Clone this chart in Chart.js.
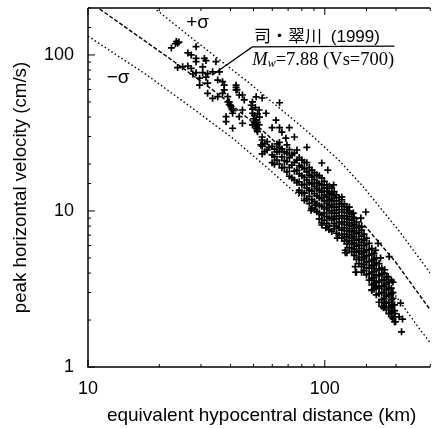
<!DOCTYPE html>
<html><head><meta charset="utf-8">
<style>html,body{margin:0;padding:0;background:#fff;width:432px;height:429px;overflow:hidden}canvas{display:block}</style>
<script src="https://cdn.jsdelivr.net/npm/chart.js@4"></script></head>
<body><canvas id="c" width="436" height="429"></canvas>
<script>
const xTickLabels=[10,100];
const yTickLabels=[1,10,100];
const xTitle='equivalent hypocentral distance (km)';
const yTitle='peak horizontal velocity (cm/s)';
const meanCurve=[[11.2,197],[16.5,130],[23.2,90.2],[35.9,55.4],[54.4,33],[77.8,20],[109,12.7],[149,7.9],[199,4.71],[279,2.32]];
const plusSigma=[[19.5,194],[26.8,132],[36.9,90.2],[47.9,66.2],[83.2,33],[114.5,21.2],[143,14.7],[204.6,7.55],[279,4.0]];
const minusSigma=[[10,132],[17.7,74.5],[26.8,47.1],[40.7,29.4],[59.9,17.8],[85.7,10.9],[120,6.8],[168.6,4.06],[253,1.73],[279,1.43]];
const leader=[[33.5,74.5],[49.4,112.6],[196.8,114]];
const sparse=[[23.6,122],[23.9,119],[22.5,111],[28.6,113],[26.4,103],[27.3,100],[28.6,95],[28.6,90.6],[31,95],[31.5,92],[34.7,90.6],[23.9,83],[25.1,84],[26.4,85],[27.3,82],[27.7,75.5],[28.6,77],[30.5,84],[30.5,77],[32,76],[33.6,78],[35.9,78],[29.6,71],[31.5,72],[29.6,64],[32,66],[35.3,69],[37,67.4],[37.6,64],[32,56.8],[33.6,52.7],[35.3,54],[37,56.8],[37.6,59.7],[38.9,54],[39.5,50],[40.2,46.6],[42.2,64],[42.2,59.7],[43.5,55.4],[44.9,55.4],[45.7,51.5],[49.5,50],[44.9,44.4],[43.5,40.2],[38.3,40.2],[40.8,42.3],[38.3,37.4],[40.8,33.9],[44.9,36.5],[49.5,42.3],[51.2,36.5],[52,32.2],
[64.4,49.4],[51.3,53.9],[54.4,53],[48.9,47.6],[52.8,44.4],[51.3,38.2],[52.8,35.6],[56.5,42.3],[62.2,38.2],[59.9,34.2],[64.4,34.2],[70.8,34.2],[65.9,32],[74.4,29.8],[68.5,29.3],[84,25.6],[54.4,29.8],[53.7,26.5],[58.1,25.6],[64.4,25.6],[50.5,41],[49.5,35.6],[51.7,33],[50.9,46],
[213,2.03],[211,1.68],[97.1,20.3],[103,18.3],[149,9.85],[168,6.2],[187,5.1],[135,4.05],[122,5.4]];
const clumps=[[39.5,48],[40,47.5],[39,50],[40.5,45],[41,44],[42.2,62],[42.6,60],[51,35],[51.5,34],[52,37],[50,39],[50.5,37],[52,42],[49.5,45],[53,40],[24.2,121],[23.4,118]];
const lowerEdge=[[78,13.2],[82,13],[88,10.4],[91.5,10.9],[87.5,10.1],[97,8.4],[104,7.6],[101,7.8],[113,6.7],[122,5.6],[124,5.4],[136,4.05],[134.5,4.4],[158,3.1],[164,3.3],[177,2.4],[179,2.57],[198,2.2],[199,1.95],[206,2.1]];
const upperEdge=[[118,12.3],[132,9.7],[142,9],[143,7.9],[164,5.6],[179,4.2],[194,3.5],[191,3.6],[109,14.7],[107,13],[127,10.6],[172,5],[185,3.8],[209,2.57]];
const rowDistances=[54.4,57.1,59.9,62.8,65.9,69.2,72.6,76.3,80,84,88.2,92.6,97.1,102,107,112,118,124,130,136,143,150,158,165,174,182,191,197];
const rowVelocities=[
[28.5,26,23.2],[27.8,24.6],[26,22.9,20.4],[26.9,23.9,21.2],[25,22.2,18.9],[26.5,23.5,20.7,17.8],[22.9,19.7,16.3],[24.6,21.2,18.3,15.2],
[21.2,19.1,16.8,14.7,13],[20.4,17.8,15.8,14,12],[18.3,16.5,14.9,13.4,11.8,10.4],[17,15.2,13.9,12.5,11.1,9.9],[16.3,14.7,13.2,12,10.7,9.43,8.13],
[14.7,13.4,12.3,11.2,10.3,9.2,8.3],[14,12.7,11.6,10.6,9.7,8.75,7.4],[12.7,11.6,10.6,9.7,8.9,8,7.2],[11.8,10.7,9.85,9,8.25,7.55,6.7],
[10.6,9.7,8.9,8.13,7.45,6.85,6.15],[9.55,8.75,8,7.35,6.7,6.15,5.5],[8.5,7.8,7.15,6.5,5.95,5.45,4.9],[7.55,6.9,6.3,5.75,5.3,4.85,4.4,4.05],
[6.7,6.15,5.62,5.15,4.7,4.3,3.89],[5.75,5.3,4.85,4.45,4.05,3.7,3.36,3.12],[5,4.65,4.25,3.89,3.55,3.25,2.9],[4.3,3.95,3.6,3.3,3.0,2.7,2.45],
[3.75,3.4,3.12,2.85,2.57,2.32],[3.2,2.95,2.7,2.45,2.25,2.1],[2.5,2.3,2.1,1.95]];
const rowDistancesB=[55.7,61.3,64.3,67.5,70.9,74.4,78,82,86,90.4,94.8,99.5,104.5,109.5,115,121,127,133,139.5,146.5,154,161.5,169.5,178,186.5,194];
const rowVelocitiesB=[
[27,24],[24.9,22.2,19.9],[27.5,24,20],[23.9,21,19],[24.7,22,19,16.7],[23.5,20.5,18,15.8],
[22,19.5,17.3,15.4,13.6],[20.5,18.6,16.4,14.8,13,11.7],[19,17,15.2,13.6,12.4,11.2],[17.6,15.9,14.4,12.9,11.5,10.2],[16.8,14.9,13.6,12.2,10.9,9.7,8.9],
[15.5,14,12.7,11.6,10.5,9.7,8.7],[14.4,13,11.9,10.9,10,9,8],[13.3,12.1,11,10.1,9.2,8.3,7.7],[12.2,11.1,10.2,9.3,8.5,7.8,7],[11.1,10.2,9.3,8.5,7.8,7.1,6.4],
[10,9.2,8.4,7.7,7.05,6.45,5.8],[9,8.2,7.5,6.85,6.25,5.7,5.2],[8,7.3,6.6,6.05,5.55,5.05,4.6],[7.1,6.5,6,5.45,5,4.55,4.15],[6.2,5.65,5.2,4.75,4.3,3.95,3.6],
[5.35,4.9,4.5,4.1,3.75,3.45,3.15],[4.6,4.2,3.85,3.5,3.2,2.95,2.6],[4,3.6,3.3,3,2.75,2.45],[3.5,3.2,2.9,2.6,2.4,2.2],[3,2.75,2.5,2.3,2.05]];

const toXY=a=>a.map(p=>({x:p[0],y:p[1]}));
const scatter=toXY(sparse.concat(clumps,lowerEdge,upperEdge));
rowDistances.forEach((d,i)=>rowVelocities[i].forEach(v=>scatter.push({x:d,y:v})));
rowDistancesB.forEach((d,i)=>rowVelocitiesB[i].forEach(v=>scatter.push({x:d,y:v})));
const curve=(a,dash,lw)=>({type:'line',data:toXY(a),borderColor:'#000',borderWidth:lw,borderDash:dash,pointRadius:0,tension:0,fill:false});
const keepLabelled=list=>function(s){s.allTicks=s.ticks;s.ticks=s.ticks.filter(t=>list.includes(t.value));};

const frame={id:'frame',afterDraw(ch){
  const c=ch.ctx,a=ch.chartArea,X=ch.scales.x,Y=ch.scales.y;
  c.save();c.strokeStyle='#000';c.lineWidth=1.5;
  c.beginPath();c.moveTo(a.left,a.top);c.lineTo(a.left,a.bottom);c.lineTo(a.right,a.bottom);c.moveTo(a.left,a.top);c.lineTo(a.right,a.top);c.stroke();
  c.lineWidth=1;c.beginPath();
  X.allTicks.forEach(t=>{const p=X.getPixelForValue(t.value),l=xTickLabels.includes(t.value)?7:3;
    c.moveTo(p,a.bottom);c.lineTo(p,a.bottom-l);c.moveTo(p,a.top);c.lineTo(p,a.top+l);});
  Y.allTicks.forEach(t=>{const p=Y.getPixelForValue(t.value),l=yTickLabels.includes(t.value)?7:3;
    c.moveTo(a.left,p);c.lineTo(a.left+l,p);});
  c.stroke();
  c.fillStyle='#000';c.textBaseline='alphabetic';
  const at=(x,y)=>[X.getPixelForValue(x),Y.getPixelForValue(y)];
  let p;
  c.font='19px "Liberation Sans"';
  c.textAlign='center';
  c.fillText(xTitle,X.getPixelForValue(54.1),a.bottom+54);
  c.textAlign='left';
  p=at(26,149);c.fillText('+σ',p[0],p[1]);
  p=at(12,66);c.fillText('−σ',p[0],p[1]);
  c.font='17px "Noto Sans CJK JP"';
  p=at(50.3,121);c.fillText('司・翠川',p[0],p[1]);
  c.font='17px "Liberation Sans"';
  p=at(106,121);c.fillText('(1999)',p[0],p[1]);
  p=at(49.4,86.3);
  c.font='italic 18.5px "Liberation Serif"';c.fillText('M',p[0],p[1]);
  let w=c.measureText('M').width;
  c.font='italic 12px "Liberation Serif"';c.fillText('w',p[0]+w,p[1]+2);
  w+=c.measureText('w').width;
  c.font='18.5px "Liberation Serif"';c.fillText('=7.88 (Vs=700)',p[0]+w,p[1]);
  c.restore();
}};

new Chart(document.getElementById('c'),{
  type:'scatter',
  data:{datasets:[
    curve(meanCurve,[4,2],1.4),curve(plusSigma,[1.5,2.5],1.4),curve(minusSigma,[1.5,2.5],1.4),
    {type:'line',data:toXY(leader),borderColor:'#000',borderWidth:1.3,pointRadius:0,tension:0,fill:false},
    {data:scatter,pointStyle:'cross',pointRadius:3.5,borderColor:'#000',backgroundColor:'#000',borderWidth:1.7,showLine:false}
  ]},
  plugins:[frame],
  options:{responsive:false,animation:false,
    layout:{padding:{top:8,right:0,left:0,bottom:0}},
    plugins:{legend:{display:false},tooltip:{enabled:false}},
    scales:{
      x:{type:'logarithmic',min:10,max:279,
        afterTickToLabelConversion:keepLabelled(xTickLabels),
        afterFit(s){s.height=62;s.paddingLeft=0;s.paddingRight=0;},
        border:{display:false},grid:{display:false},
        ticks:{autoSkip:false,maxRotation:0,color:'#000',padding:3,font:{family:'"Liberation Sans"',size:18},
          callback:v=>String(v)},
        title:{display:false}},
      y:{type:'logarithmic',min:1,max:200,
        afterTickToLabelConversion:keepLabelled(yTickLabels),
        afterFit(s){s.width=88;s.paddingTop=0;s.paddingBottom=0;},
        border:{display:false},grid:{display:false},
        ticks:{autoSkip:false,color:'#000',padding:6,font:{family:'"Liberation Sans"',size:18},
          callback:v=>String(v)},
        title:{display:true,text:yTitle,color:'#000',font:{family:'"Liberation Sans"',size:18.7},padding:{top:10,bottom:0}}}
    }
  }
});
</script></body></html>
